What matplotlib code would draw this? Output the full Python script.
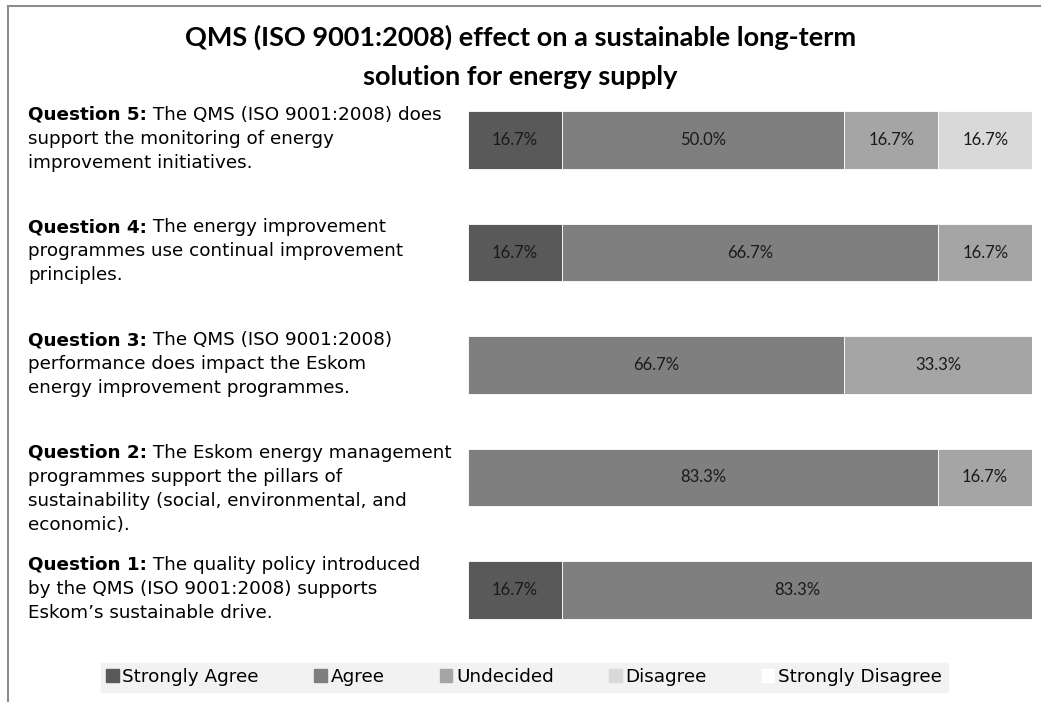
import matplotlib
matplotlib.use("Agg")
import matplotlib.pyplot as plt
from matplotlib.patches import Patch
from matplotlib.lines import Line2D

# Data (bottom to top: Question 1 .. Question 5)
question_heads = ["Question 1:", "Question 2:", "Question 3:", "Question 4:", "Question 5:"]
question_lines = [
    [" The quality policy introduced", "by the QMS (ISO 9001:2008) supports", "Eskom\u2019s sustainable drive."],
    [" The Eskom energy management", "programmes support the pillars of",
     "sustainability (social, environmental, and", "economic)."],
    [" The QMS (ISO 9001:2008)", "performance does impact the Eskom", "energy improvement programmes."],
    [" The energy improvement", "programmes use continual improvement", "principles."],
    [" The QMS (ISO 9001:2008) does", "support the monitoring of energy", "improvement initiatives."],
]
categories = ["Strongly Agree", "Agree", "Undecided", "Disagree", "Strongly Disagree"]
strongly_agree = [16.7, 0.0, 0.0, 16.7, 16.7]
agree = [83.3, 83.3, 66.7, 66.7, 50.0]
undecided = [0.0, 16.7, 33.3, 16.7, 16.7]
disagree = [0.0, 0.0, 0.0, 0.0, 16.7]
strongly_disagree = [0.0, 0.0, 0.0, 0.0, 0.0]
series = [strongly_agree, agree, undecided, disagree, strongly_disagree]
colors = ["#595959", "#7f7f7f", "#a5a5a5", "#d9d9d9", "#ffffff"]

W, H = 1041, 702
fig = plt.figure(figsize=(W / 100, H / 100), dpi=100)
ax = fig.add_axes([468 / W, 1 - 646.25 / H, 564 / W, 562.5 / H])

ypos = list(range(len(question_heads)))
left = [0.0] * len(ypos)
for vals, col in zip(series, colors):
    ax.barh(ypos, vals, left=left, height=0.515, color=col, edgecolor="white", linewidth=0.6)
    for y, v, l in zip(ypos, vals, left):
        if v > 0:
            ax.text(l + v / 2, y, f"{v:.1f}%", ha="center", va="center",
                    fontsize=12, family="Lato", color="#1a1a1a")
    left = [a + b for a, b in zip(left, vals)]

ax.set_xlim(0, 100)
ax.set_ylim(-0.5, 4.5)
ax.axis("off")

# question labels on the left
fs = 13.2
line_gap = 24
for y, head, lines in zip(ypos, question_heads, question_lines):
    first_off = -25
    b = ax.annotate(head, xy=(28, y), xycoords=("figure pixels", "data"),
                    xytext=(0, -first_off), textcoords="offset pixels",
                    fontsize=fs, fontweight="bold", va="center", ha="left", color="black")
    ax.annotate(lines[0], xy=(1, 0), xycoords=b, va="bottom", ha="left",
                fontsize=fs, color="black")
    for i, ln in enumerate(lines[1:], start=1):
        ax.annotate(ln, xy=(28, y), xycoords=("figure pixels", "data"),
                    xytext=(0, -first_off - i * line_gap), textcoords="offset pixels",
                    fontsize=fs, va="center", ha="left", color="black")

fig.text(0.5, 1 - 37 / H, "QMS (ISO 9001:2008) effect on a sustainable long-term",
         ha="center", va="center", fontsize=19.5, fontweight="bold", family="Lato")
fig.text(0.5, 1 - 77 / H, "solution for energy supply",
         ha="center", va="center", fontsize=19.5, fontweight="bold", family="Lato")

# outer frame (left and top edges visible)
fig.add_artist(Line2D([8 / W, 8 / W], [0, 1 - 6 / H], color="#8c8c8c", lw=1.5))
fig.add_artist(Line2D([8 / W, 1], [1 - 6 / H, 1 - 6 / H], color="#8c8c8c", lw=1.5))

handles = [Patch(facecolor=c, edgecolor=c, label=n) for n, c in zip(categories, colors)]
leg = fig.legend(handles=handles, loc="center", bbox_to_anchor=(524 / W, 1 - 677 / H),
                 ncol=5, frameon=True, fancybox=False, facecolor="#f2f2f2", edgecolor="#f2f2f2",
                 fontsize=fs, handlelength=0.7, handleheight=0.7, handletextpad=0.2,
                 columnspacing=3.0, borderpad=0.3)
leg.get_frame().set_alpha(1)

fig.savefig("out.png", dpi=100)
